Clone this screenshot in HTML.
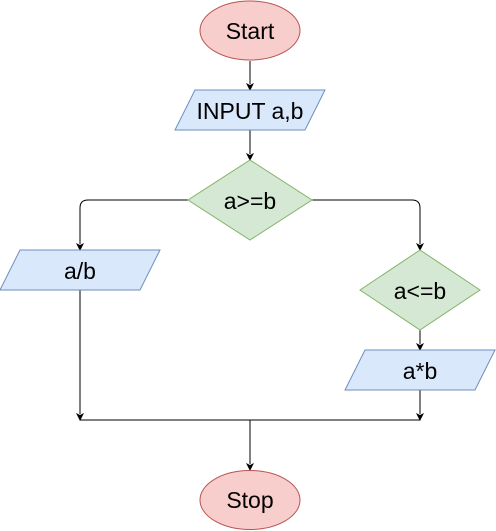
<!DOCTYPE html>
<html><head><style>html,body{margin:0;padding:0;background:#fff}svg{display:block}</style></head>
<body>
<svg width="496" height="531" viewBox="0 0 496 531" xmlns="http://www.w3.org/2000/svg" font-family="Liberation Sans, Arial, sans-serif" font-size="23">
<g fill="none" stroke="#000" stroke-width="1">
<path d="M250 61V84"/>
<path d="M250 130V154"/>
<path d="M188 200H88Q80 200 80 208V244"/>
<path d="M312 200H412Q420 200 420 208V244"/>
<path d="M420 330V344"/>
<path d="M80 290V414"/>
<path d="M420 390V414"/>
<path d="M80 420H420"/>
<path d="M250 420V464"/>
</g>
<g fill="#000">
<path d="M246 83L250 91L254 83L250 85Z"/>
<path d="M246 153L250 161L254 153L250 155Z"/>
<path d="M76 243L80 251L84 243L80 245Z"/>
<path d="M416 243L420 251L424 243L420 245Z"/>
<path d="M416 343L420 351L424 343L420 345Z"/>
<path d="M76 413L80 421L84 413L80 415Z"/>
<path d="M416 413L420 421L424 413L420 415Z"/>
<path d="M246 463L250 471L254 463L250 465Z"/>
</g>
<ellipse cx="250" cy="30.5" rx="50" ry="29.5" fill="#f8cecc" stroke="#b85450"/>
<polygon points="195,90 325,90 305,130 175,130" fill="#dae8fc" stroke="#6c8ebf"/>
<polygon points="250,160 312,200 250,240 188,200" fill="#d5e8d4" stroke="#82b366"/>
<polygon points="20,250 160,250 140,290 0,290" fill="#dae8fc" stroke="#6c8ebf"/>
<polygon points="420,250 480,290 420,330 360,290" fill="#d5e8d4" stroke="#82b366"/>
<polygon points="365,350 495,350 475,390 345,390" fill="#dae8fc" stroke="#6c8ebf"/>
<ellipse cx="250" cy="500" rx="50" ry="29.5" fill="#f8cecc" stroke="#b85450"/>
<g fill="#000" text-anchor="middle">
<text x="250" y="39">Start</text>
<text x="250" y="119">INPUT a,b</text>
<text x="250" y="209">a&gt;=b</text>
<text x="80" y="279">a/b</text>
<text x="420" y="299">a&lt;=b</text>
<text x="420" y="379">a*b</text>
<text x="250" y="508">Stop</text>
</g>
</svg>
</body></html>
